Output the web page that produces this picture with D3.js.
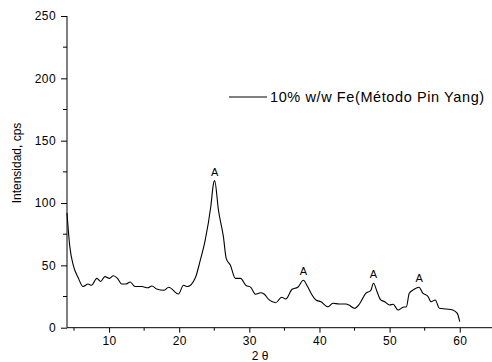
<!DOCTYPE html>
<html>
<head>
<meta charset="utf-8">
<script src="https://cdn.jsdelivr.net/npm/d3@7"></script>
<style>
  body { margin: 0; background: #fff; }
  svg text { font-family: "Liberation Sans", Arial, sans-serif; fill: #000; }
</style>
</head>
<body>
<div id="chart"></div>
<script>
//---------------------------DATA---------------------------//
var theta = [4.0, 4.4, 4.9, 5.6, 6.3, 7.0, 7.5, 8.25, 8.8, 9.4, 10.05, 10.6, 11.2, 11.8, 12.4, 13.0, 13.7, 14.7,
  15.5, 16.1, 16.8, 17.8, 18.5, 19.9, 20.6, 21.2, 22.3, 23.0, 23.7, 24.5, 24.9, 25.05, 25.6, 26.3, 26.7, 27.3,
  28.0, 28.75, 29.5, 30.2, 30.9, 31.6, 32.1, 32.8, 33.75, 34.6, 35.2, 36.1, 36.9, 37.7, 38.3, 38.8, 39.5, 40.2,
  41.2, 41.9, 42.8, 43.8, 44.2, 45.0, 45.7, 46.6, 47.3, 47.7, 48.2, 48.7, 49.3, 50.0, 50.5, 51.2, 51.9, 52.4,
  52.8, 53.5, 54.2, 54.7, 55.5, 55.9, 56.5, 57.1, 58.1, 59.0, 59.65, 60.0];
var counts = [92, 65, 50, 40, 33, 35, 34, 39.6, 37, 41, 39.6, 41.7, 39.6, 35, 35, 36.7, 33, 33,
  32, 33.4, 31, 30, 32.4, 27, 34, 33, 40, 54, 70, 97, 116, 118, 94, 73, 55.6, 50,
  39.6, 39.6, 34, 32.4, 26.8, 28, 27, 22.5, 20, 24.4, 23, 30.8, 32.4, 38, 33, 27.6, 22.2, 20.8,
  16.8, 19.6, 19, 19, 18.2, 15.6, 19, 27.6, 29.7, 35.6, 29, 22.5, 20.8, 18.2, 18.8, 14.2, 16.4, 16.8,
  27.6, 30.8, 32.4, 28, 24.8, 20.8, 22.2, 15.6, 15, 14.2, 11.5, 4.8];

var peakTheta = [25.05, 37.7, 47.7, 54.2];
var peakCounts = [118, 38, 35.6, 32.4];
var peakLabel = "A";

var xTicks = [10, 20, 30, 40, 50, 60];
var xMinor = [5, 15, 25, 35, 45, 55];
var yTicks = [0, 50, 100, 150, 200, 250];
var yMinor = [25, 75, 125, 175, 225];

var seriesName = "10% w/w Fe(Método Pin Yang)";
var xTitle = "2 θ";
var yTitle = "Intensidad, cps";

//--------------------------SVG-----------------------------//
var W = 492, H = 362;
var svg = d3.select("#chart").append("svg")
    .attr("width", W)
    .attr("height", H);

var x = d3.scaleLinear().domain([4, 64.6]).range([67, 492]);
var y = d3.scaleLinear().domain([0, 250]).range([327.7, 16]);

//--------------------------AXES----------------------------//
var xAxis = svg.append("g")
    .attr("transform", "translate(0," + y(0) + ")")
    .call(d3.axisBottom(x).tickValues(xTicks).tickSize(5).tickPadding(4).tickFormat(d3.format("d")));
xAxis.select(".domain").attr("d", "M67,0H492");
xAxis.selectAll("text").style("font-size", "12px").style("letter-spacing", "0.4px");

var yAxis = svg.append("g")
    .attr("transform", "translate(" + x(4) + ",0)")
    .call(d3.axisLeft(y).tickValues(yTicks).tickSize(6).tickPadding(5).tickFormat(d3.format("d")));
yAxis.select(".domain").attr("d", "M0," + y(0) + "V" + y(250));
yAxis.selectAll("text").style("font-size", "12px").style("letter-spacing", "0.4px");

svg.append("g").selectAll("line")
    .data(xMinor).enter().append("line")
    .attr("x1", function(d) { return x(d); })
    .attr("x2", function(d) { return x(d); })
    .attr("y1", y(0))
    .attr("y2", y(0) + 3)
    .attr("stroke", "#000");

svg.append("g").selectAll("line")
    .data(yMinor).enter().append("line")
    .attr("x1", x(4) - 4)
    .attr("x2", x(4))
    .attr("y1", function(d) { return y(d); })
    .attr("y2", function(d) { return y(d); })
    .attr("stroke", "#000");

svg.append("text")
    .attr("x", 260)
    .attr("y", 360)
    .attr("text-anchor", "middle")
    .style("font-size", "12px")
    .text(xTitle);

svg.append("text")
    .attr("transform", "translate(21,163) rotate(-90)")
    .attr("text-anchor", "middle")
    .style("font-size", "12px")
    .text(yTitle);

//--------------------------LINE----------------------------//
var pts = theta.map(function(t, i) { return { t: t, c: counts[i] }; });
var line = d3.line()
    .x(function(d) { return x(d.t); })
    .y(function(d) { return y(d.c); })
    .curve(d3.curveMonotoneX);

svg.append("path")
    .datum(pts)
    .attr("d", line)
    .attr("fill", "none")
    .attr("stroke", "#000")
    .attr("stroke-width", 1.1);

// peak labels
svg.append("g").selectAll("text")
    .data(peakTheta).enter().append("text")
    .attr("x", function(d) { return x(d); })
    .attr("y", function(d, i) { return y(peakCounts[i]) - 5; })
    .attr("text-anchor", "middle")
    .style("font-size", "11px")
    .text(peakLabel);

//-------------------------LEGEND---------------------------//
svg.append("line")
    .attr("x1", 229).attr("x2", 267)
    .attr("y1", 97).attr("y2", 97)
    .attr("stroke", "#000")
    .attr("stroke-width", 1.1);
svg.append("text")
    .attr("x", 270)
    .attr("y", 102)
    .style("font-size", "14.5px")
    .style("letter-spacing", "0.6px")
    .text(seriesName);
</script>
</body>
</html>
